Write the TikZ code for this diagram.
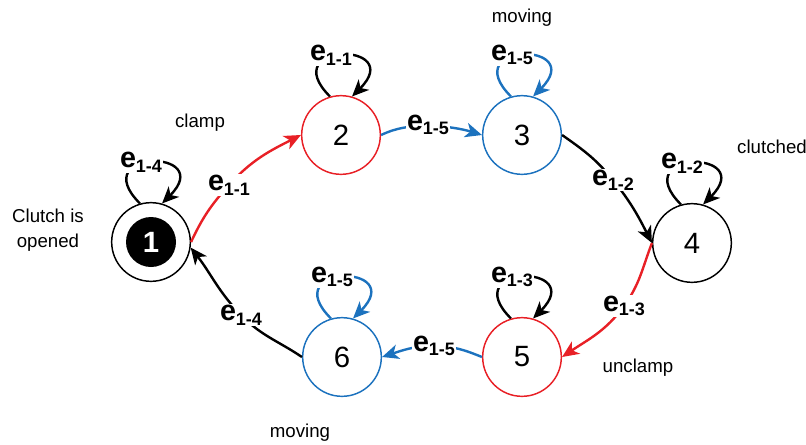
\documentclass[tikz,border=0pt]{standalone}
\usepackage{fontspec}
\setmainfont{Liberation Sans}
\usetikzlibrary{arrows.meta}
\definecolor{sred}{RGB}{232,32,38}
\definecolor{sblue}{RGB}{28,114,190}
% event label: bold e with a lowered bold index
\newcommand{\elab}[1]{{\fontsize{21.5}{21.5}\selectfont\bfseries e}{\fontsize{13.5}{13.5}\selectfont\bfseries\raisebox{-3.5pt}{#1}}}
\begin{document}
\begin{tikzpicture}[x=0.75pt,y=0.75pt,
  stnode/.style={circle, draw, line width=1.1pt, minimum size=59pt, inner sep=0pt,
                 font=\fontsize{22}{22}\selectfont},
  trans/.style={line width=1.8pt, -{Stealth[length=12.5pt,width=11pt,inset=3.5pt]}},
  tlabel/.style={fill=white, inner sep=0.8pt},
  remark/.style={font=\fontsize{14}{19}\selectfont, align=center}]
\useasboundingbox (0,0) rectangle (806,444);

% states
\node[stnode] (n1) at (151,202) {};
\node[circle, fill=black, minimum size=37.5pt, inner sep=0pt, text=white,
      font=\fontsize{22}{22}\selectfont\bfseries] (n1in) at (n1) {1};
\node[stnode, draw=sred]  (n2) at (341,309) {2};
\node[stnode, draw=sblue] (n3) at (522,309) {3};
\node[stnode]             (n4) at (692,201) {4};
\node[stnode, draw=sred]  (n5) at (522,87)  {5};
\node[stnode, draw=sblue] (n6) at (342,87)  {6};

% points where the transitions pass their labels
\coordinate (c12) at (229,259);
\coordinate (c23) at (428,319);
\coordinate (c34) at (613,264);
\coordinate (c45) at (624,138);
\coordinate (c56) at (434,98);
\coordinate (c61) at (241,129);

% transitions around the cycle
\draw[trans, sred]  (n1.east) to[out=65,in=228] (c12) to[out=48,in=207] (n2.west);
\draw[trans, sblue] (n2.east) to[out=25,in=185] (c23) to[out=-5,in=163] (n3.west);
\draw[trans]        (n3.east) to[out=-35,in=129] (c34) to[out=-51,in=117] (n4.west);
\draw[trans, sred]  (n4.west) to[out=-111,in=54] (c45) to[out=-126,in=34] (n5.east);
\draw[trans, sblue] (n5.west) to[out=158,in=0] (c56) to[out=180,in=18] (n6.east);
\draw[trans]        (n6.west) to[out=146,in=-46] (c61) to[out=134,in=-52] (n1.-8);

% self loops
\draw[trans]        (n1.106) .. controls +(135:78) and +(45:78) .. (n1.74);
\draw[trans]        (n2.106) .. controls +(135:78) and +(45:78) .. (n2.74);
\draw[trans, sblue] (n3.106) .. controls +(135:78) and +(45:78) .. (n3.74);
\draw[trans]        (n4.106) .. controls +(135:78) and +(45:78) .. (n4.74);
\draw[trans]        (n5.106) .. controls +(135:78) and +(45:78) .. (n5.74);
\draw[trans, sblue] (n6.106) .. controls +(135:78) and +(45:78) .. (n6.74);

% transition labels
\node[tlabel] (e12) at (c12) {\elab{1-1}};
\node[tlabel] (e23) at (c23) {\elab{1-5}};
\node[tlabel] (e34) at (c34) {\elab{1-2}};
\node[tlabel] (e45) at (c45) {\elab{1-3}};
\node[tlabel] (e56) at (c56) {\elab{1-5}};
\node[tlabel] (e61) at (c61) {\elab{1-4}};

% self loop labels
\node[tlabel] (s1) at ([shift={(-10,80)}]n1.center) {\elab{1-4}};
\node[tlabel] (s2) at ([shift={(-10,80)}]n2.center) {\elab{1-1}};
\node[tlabel] (s3) at ([shift={(-10,80)}]n3.center) {\elab{1-5}};
\node[tlabel] (s4) at ([shift={(-10,80)}]n4.center) {\elab{1-2}};
\node[tlabel] (s5) at ([shift={(-10,80)}]n5.center) {\elab{1-3}};
\node[tlabel] (s6) at ([shift={(-10,80)}]n6.center) {\elab{1-5}};

% state descriptions
\node[remark] (t1) at (48,214) {Clutch is\\opened};
\node[remark] (t2) at (200,321) {clamp};
\node[remark] (t3) at (522,426) {moving};
\node[remark] (t4) at (772,297) {clutched};
\node[remark] (t5) at (638,76) {unclamp};
\node[remark] (t6) at (300,11) {moving};
\end{tikzpicture}
\end{document}
